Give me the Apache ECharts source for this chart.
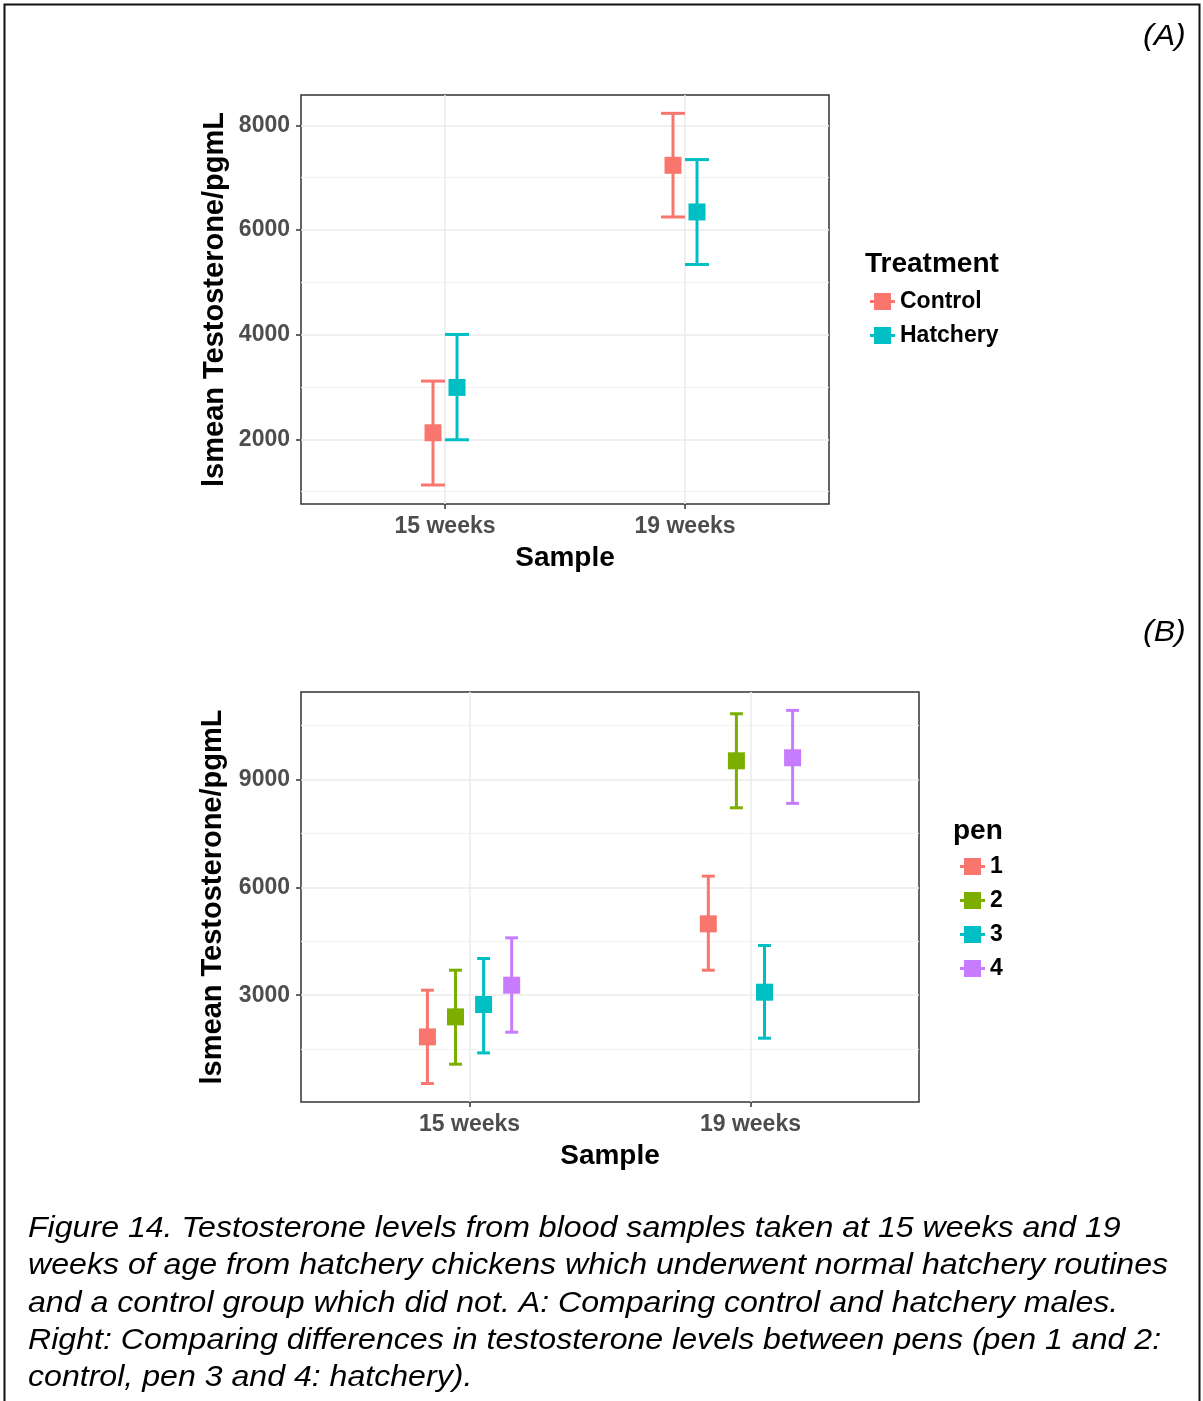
<!DOCTYPE html>
<html>
<head>
<meta charset="utf-8">
<title>Testosterone levels</title>
<script src="https://cdn.jsdelivr.net/npm/echarts@6/dist/echarts.min.js"></script>
<style>
  html, body { margin: 0; padding: 0; background: #fff; }
  #main { width: 1203px; height: 1401px; }
</style>
</head>
<body>
<div id="main"></div>
<script>
// categories
const samples = ['15 weeks', '19 weeks'];
const treatments = ['Control', 'Hatchery'];
const pens = ['1', '2', '3', '4'];

// panel A: lsmean and interval per treatment (15 weeks, 19 weeks)
const controlMean = [2126, 7235];
const controlLow = [1128, 6248];
const controlHigh = [3113, 8228];
const hatcheryMean = [2992, 6344];
const hatcheryLow = [1992, 5340];
const hatcheryHigh = [4004, 7344];

// panel B: lsmean and interval per pen (15 weeks, 19 weeks)
const penMean = [[1840, 4983], [2397, 9517], [2741, 3083], [3278, 9601]];
const penLow = [[544, 3695], [1081, 8210], [1395, 1804], [1971, 8333]];
const penHigh = [[3139, 6310], [3695, 10825], [4020, 4382], [4594, 10919]];

// tick labels
const yTicksA = [2000, 4000, 6000, 8000];
const yMinorA = [1000, 3000, 5000, 7000];
const yTicksB = [3000, 6000, 9000];
const yMinorB = [1500, 4500, 7500, 10500];
const xTicks = [1, 2];

const treatColors = ['#F8766D', '#00BFC4'];
const penColors = ['#F8766D', '#7CAE00', '#00BFC4', '#C77CFF'];

const FONT = '"Liberation Sans", Arial, Helvetica, sans-serif';
const dodgeA = [-0.05, 0.05];
const dodgeB = [-0.15, -0.05, 0.05, 0.15];

let chart = echarts.init(document.getElementById('main'), null, { renderer: 'canvas' });

// error bar + square point
function errorBar(capHalf, size) {
  return function (params, api) {
    let x = api.value(0);
    let top = api.coord([x, api.value(3)]);
    let bot = api.coord([x, api.value(2)]);
    let mid = api.coord([x, api.value(1)]);
    let l = api.coord([x - capHalf, api.value(3)])[0];
    let r = api.coord([x + capHalf, api.value(3)])[0];
    let style = { stroke: api.visual('color'), lineWidth: 3, fill: null };
    return {
      type: 'group',
      children: [
        { type: 'line', shape: { x1: top[0], y1: top[1], x2: bot[0], y2: bot[1] }, style: style },
        { type: 'line', shape: { x1: l, y1: top[1], x2: r, y2: top[1] }, style: style },
        { type: 'line', shape: { x1: l, y1: bot[1], x2: r, y2: bot[1] }, style: style },
        { type: 'rect', shape: { x: mid[0] - size / 2, y: mid[1] - size / 2, width: size, height: size },
          style: { fill: api.visual('color') } }
      ]
    };
  };
}

function xAxisOf(gi) {
  return {
    gridIndex: gi, type: 'value', min: 0.4, max: 2.6,
    name: 'Sample', nameLocation: 'middle', nameGap: 40,
    nameTextStyle: { fontFamily: FONT, fontSize: 28, fontWeight: 'bold', color: '#000' },
    axisLine: { show: false },
    axisTick: { show: true, length: 5, customValues: xTicks, lineStyle: { color: '#333', width: 1.5 } },
    axisLabel: {
      customValues: xTicks, margin: 11,
      fontFamily: FONT, fontSize: 23, fontWeight: 'bold', color: '#4d4d4d',
      formatter: v => samples[Math.round(v) - 1]
    },
    splitLine: { show: true, lineStyle: { color: '#ebebeb', width: 1.5 } }
  };
}

function yAxisOf(gi, min, max, ticks) {
  return {
    gridIndex: gi, type: 'value', min: min, max: max,
    name: 'lsmean Testosterone/pgmL', nameLocation: 'middle', nameGap: 72,
    nameTextStyle: { fontFamily: FONT, fontSize: 29, fontWeight: 'bold', color: '#000' },
    axisLine: { show: false },
    axisTick: { show: true, length: 5, customValues: ticks, lineStyle: { color: '#333', width: 1.5 } },
    axisLabel: {
      customValues: ticks, margin: 11, fontFamily: FONT, fontSize: 23, fontWeight: 'bold', color: '#4d4d4d',
      formatter: v => String(v)
    },
    splitLine: { show: true, lineStyle: { color: '#ebebeb', width: 1.5 } }
  };
}

function minorAxisOf(gi, min, max, ticks) {
  return {
    gridIndex: gi, type: 'value', min: min, max: max, position: 'left',
    axisLine: { show: false },
    axisTick: { show: false, customValues: ticks },
    axisLabel: { show: false, customValues: ticks },
    splitLine: { show: true, lineStyle: { color: '#f2f2f2', width: 1 } }
  };
}

let series = [];
treatments.forEach((name, t) => {
  let mean = t === 0 ? controlMean : hatcheryMean;
  let low = t === 0 ? controlLow : hatcheryLow;
  let high = t === 0 ? controlHigh : hatcheryHigh;
  series.push({
    name: name, type: 'custom', xAxisIndex: 0, yAxisIndex: 0,
    itemStyle: { color: treatColors[t] },
    renderItem: errorBar(0.05, 17),
    encode: { x: 0, y: [1, 2, 3] },
    data: samples.map((s, i) => [i + 1 + dodgeA[t], mean[i], low[i], high[i]])
  });
});
pens.forEach((name, p) => {
  series.push({
    name: name, type: 'custom', xAxisIndex: 1, yAxisIndex: 2,
    itemStyle: { color: penColors[p] },
    renderItem: errorBar(0.023, 17),
    encode: { x: 0, y: [1, 2, 3] },
    data: samples.map((s, i) => [i + 1 + dodgeB[p], penMean[p][i], penLow[p][i], penHigh[p][i]])
  });
});

const keyIcon = 'path://M0,7H4V0H21V7H25V10H21V17H4V10H0Z';
const legendText = { fontFamily: FONT, fontSize: 23, fontWeight: 'bold', color: '#000', lineHeight: 17 };

let caption = 'Figure 14. Testosterone levels from blood samples taken at 15 weeks and 19\n' +
  'weeks of age from hatchery chickens which underwent normal hatchery routines\n' +
  'and a control group which did not. A: Comparing control and hatchery males.\n' +
  'Right: Comparing differences in testosterone levels between pens (pen 1 and 2:\n' +
  'control, pen 3 and 4: hatchery).';

let option = {
  animation: false,
  backgroundColor: '#fff',
  grid: [
    { left: 301, top: 95, width: 528, height: 409, show: true, borderColor: '#333', borderWidth: 1.5, backgroundColor: 'transparent' },
    { left: 301, top: 692, width: 618, height: 410, show: true, borderColor: '#333', borderWidth: 1.5, backgroundColor: 'transparent' }
  ],
  xAxis: [xAxisOf(0), xAxisOf(1)],
  yAxis: [
    yAxisOf(0, 765, 8578, yTicksA),
    minorAxisOf(0, 765, 8578, yMinorA),
    yAxisOf(1, 30, 11430, yTicksB),
    minorAxisOf(1, 30, 11430, yMinorB)
  ],
  legend: [
    {
      data: treatments, orient: 'vertical', left: 865, top: 285, itemWidth: 25, itemHeight: 17, itemGap: 11,
      icon: keyIcon, selectedMode: false, textStyle: legendText
    },
    {
      data: pens, orient: 'vertical', left: 955, top: 850, itemWidth: 25, itemHeight: 17, itemGap: 11,
      icon: keyIcon, selectedMode: false, textStyle: legendText
    }
  ],
  graphic: [
    { type: 'rect', shape: { x: 4.5, y: 4.5, width: 1195, height: 1420 }, style: { fill: null, stroke: '#111', lineWidth: 2 }, silent: true },
    { type: 'text', left: 865, top: 250, style: { text: 'Treatment', font: 'bold 28px ' + FONT, fill: '#000' } },
    { type: 'text', left: 953, top: 817, style: { text: 'pen', font: 'bold 28px ' + FONT, fill: '#000' } },
    { type: 'text', x: 1143, y: 22, scaleX: 1.07, style: { text: '(A)', font: 'italic 30px ' + FONT, fill: '#000' } },
    { type: 'text', x: 1143, y: 618, scaleX: 1.07, style: { text: '(B)', font: 'italic 30px ' + FONT, fill: '#000' } },
    { type: 'text', x: 28, y: 1210, scaleX: 1.07, style: { text: caption, font: 'italic 30px ' + FONT, lineHeight: 37.3, fill: '#000' } }
  ],
  series: series
};

option && chart.setOption(option);
</script>
</body>
</html>
